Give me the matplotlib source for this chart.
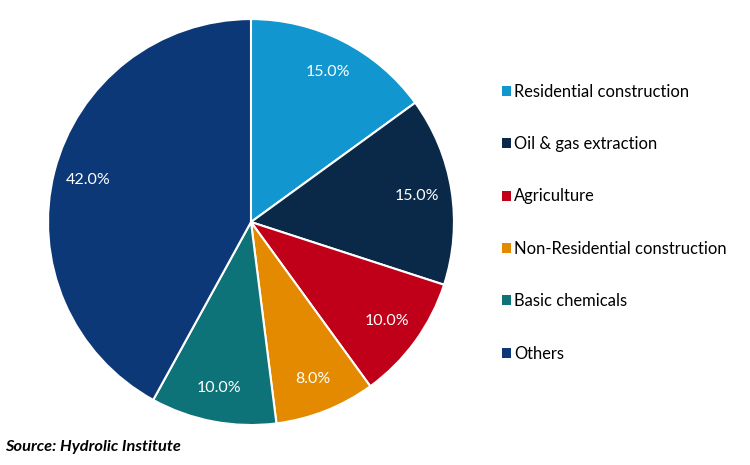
import matplotlib.pyplot as plt
from matplotlib.patches import Patch

categories = ["Residential construction", "Oil & gas extraction", "Agriculture",
              "Non-Residential construction", "Basic chemicals", "Others"]
shares = [15.0, 15.0, 10.0, 8.0, 10.0, 42.0]
colors = ["#1196CF", "#0A2847", "#C00018", "#E38A00", "#0E7379", "#0D3878"]

plt.rcParams['font.family'] = ['Lato', 'DejaVu Sans']

fig = plt.figure(figsize=(7.5, 4.65), dpi=100)
ax = fig.add_axes([0.064, 0.086, 0.5413, 0.873])

wedges, texts, autotexts = ax.pie(
    shares, colors=colors, startangle=90, counterclock=False,
    autopct='%1.1f%%', pctdistance=0.83,
    wedgeprops=dict(edgecolor='white', linewidth=1.5),
    textprops=dict(color='white', fontsize=11.5))
ax.set_xlim(-1.0, 1.0)
ax.set_ylim(-1.0, 1.0)
ax.set_aspect('equal')

handles = [Patch(facecolor=c, edgecolor='none') for c in colors]
fig.legend(handles, categories, loc='upper left', bbox_to_anchor=(0.649, 0.852),
           frameon=False, fontsize=11.9, handlelength=0.55, handleheight=0.55,
           handletextpad=0.2, labelspacing=2.2)

fig.text(0.007, 0.03, "Source: Hydrolic Institute", fontsize=11.8,
         fontweight='bold', fontstyle='italic', color='black')

fig.savefig("out.png", dpi=100)
